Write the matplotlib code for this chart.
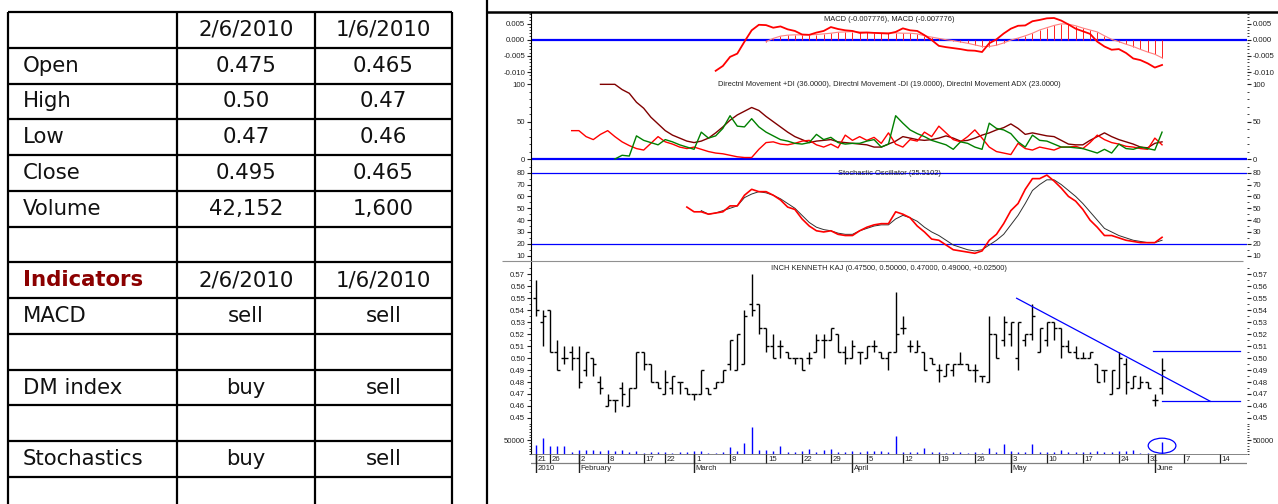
import numpy as np
import matplotlib
matplotlib.use('Agg')
import matplotlib.pyplot as plt
from matplotlib.patches import Ellipse
from matplotlib.ticker import FixedLocator, FormatStrFormatter

# ---------------- table on the left ----------------
table_cols = ['', '2/6/2010', '1/6/2010']
table_rows = [
    ['Open', '0.475', '0.465'],
    ['High', '0.50', '0.47'],
    ['Low', '0.47', '0.46'],
    ['Close', '0.495', '0.465'],
    ['Volume', '42,152', '1,600'],
    ['', '', ''],
    ['Indicators', '2/6/2010', '1/6/2010'],
    ['MACD', 'sell', 'sell'],
    ['', '', ''],
    ['DM index', 'buy', 'sell'],
    ['', '', ''],
    ['Stochastics', 'buy', 'sell'],
    ['', '', ''],
]

# ---------------- price data (one record per trading day) ----------------
price_open = [0.55, 0.53, 0.54, 0.505, 0.50, 0.505, 0.50, 0.49, 0.50, 0.48,
              0.46, 0.465, 0.475, 0.46, 0.475, 0.505, 0.495, 0.48, 0.47, 0.475,
              0.48, 0.475, 0.47, 0.47, 0.475, 0.475, 0.48, 0.495, 0.49, 0.495,
              0.545, 0.545, 0.525, 0.51, 0.51, 0.505, 0.50, 0.50, 0.50, 0.505,
              0.515, 0.515, 0.52, 0.505, 0.50, 0.505, 0.50, 0.51, 0.505, 0.50,
              0.505, 0.525, 0.51, 0.505, 0.505, 0.50, 0.49, 0.485, 0.49, 0.495,
              0.495, 0.49, 0.485, 0.48, 0.52, 0.515, 0.52, 0.50, 0.515, 0.52,
              0.505, 0.515, 0.53, 0.525, 0.51, 0.505, 0.50, 0.50, 0.495, 0.49,
              0.47, 0.475, 0.495, 0.475, 0.475, 0.48, 0.465, 0.475]
price_high = [0.565, 0.54, 0.54, 0.515, 0.51, 0.51, 0.51, 0.505, 0.50, 0.485,
              0.47, 0.465, 0.48, 0.475, 0.505, 0.505, 0.495, 0.48, 0.49, 0.485,
              0.48, 0.475, 0.47, 0.49, 0.475, 0.48, 0.49, 0.515, 0.52, 0.54,
              0.57, 0.545, 0.525, 0.52, 0.515, 0.505, 0.50, 0.50, 0.505, 0.52,
              0.52, 0.525, 0.52, 0.51, 0.515, 0.505, 0.51, 0.515, 0.505, 0.505,
              0.555, 0.535, 0.515, 0.515, 0.505, 0.50, 0.495, 0.495, 0.495, 0.505,
              0.495, 0.495, 0.485, 0.535, 0.52, 0.535, 0.53, 0.53, 0.52, 0.545,
              0.525, 0.53, 0.53, 0.525, 0.515, 0.51, 0.505, 0.505, 0.495, 0.49,
              0.49, 0.505, 0.50, 0.485, 0.485, 0.48, 0.47, 0.50]
price_low = [0.535, 0.51, 0.505, 0.49, 0.495, 0.49, 0.475, 0.485, 0.485, 0.47,
             0.46, 0.455, 0.46, 0.46, 0.475, 0.49, 0.48, 0.475, 0.47, 0.47,
             0.47, 0.47, 0.465, 0.47, 0.47, 0.475, 0.48, 0.49, 0.49, 0.495,
             0.535, 0.52, 0.505, 0.50, 0.50, 0.50, 0.495, 0.49, 0.495, 0.505,
             0.50, 0.515, 0.505, 0.495, 0.50, 0.495, 0.50, 0.505, 0.50, 0.49,
             0.505, 0.52, 0.505, 0.505, 0.49, 0.495, 0.48, 0.485, 0.485, 0.495,
             0.49, 0.48, 0.48, 0.48, 0.50, 0.51, 0.51, 0.49, 0.51, 0.515,
             0.505, 0.51, 0.515, 0.50, 0.505, 0.50, 0.50, 0.50, 0.48, 0.48,
             0.47, 0.475, 0.47, 0.475, 0.475, 0.475, 0.46, 0.47]
price_close = [0.54, 0.535, 0.505, 0.49, 0.50, 0.50, 0.48, 0.505, 0.495, 0.475,
               0.465, 0.465, 0.47, 0.475, 0.505, 0.495, 0.48, 0.475, 0.48, 0.485,
               0.48, 0.47, 0.47, 0.49, 0.47, 0.48, 0.49, 0.515, 0.52, 0.535,
               0.54, 0.525, 0.51, 0.50, 0.51, 0.50, 0.50, 0.49, 0.50, 0.515,
               0.515, 0.525, 0.505, 0.50, 0.51, 0.505, 0.51, 0.51, 0.50, 0.505,
               0.52, 0.525, 0.51, 0.51, 0.49, 0.495, 0.49, 0.495, 0.495, 0.495,
               0.49, 0.49, 0.485, 0.52, 0.50, 0.53, 0.53, 0.53, 0.52, 0.535,
               0.525, 0.53, 0.525, 0.51, 0.505, 0.50, 0.50, 0.505, 0.48, 0.49,
               0.49, 0.50, 0.48, 0.485, 0.48, 0.475, 0.465, 0.49]
volume = [33000, 57000, 30000, 30000, 30000, 9500, 14000, 14000, 14000, 12000,
          15000, 12000, 14000, 9500, 12000, 4800, 9500, 7000, 9500, 4800,
          7000, 7000, 12000, 12000, 4800, 4800, 7000, 25000, 12000, 40000,
          96000, 15000, 15000, 12000, 30000, 7000, 7000, 12000, 19000, 9500,
          14000, 19000, 7000, 7000, 12000, 9500, 12000, 12000, 12000, 9500,
          67000, 9500, 7000, 9500, 22500, 7000, 7000, 4800, 9500, 7000,
          4800, 9500, 4800, 22500, 7000, 38000, 12000, 7000, 9500, 38000,
          9500, 9500, 9500, 15000, 7000, 7000, 9500, 9500, 12000, 9500,
          9500, 12000, 12000, 15000, 4800, 4800, 1600, 42152]

# ---------------- indicators ----------------
macd_start = 25
macd_line = [-0.0096, -0.0081, -0.0053, -0.0043, -0.0006, 0.0029, 0.0046, 0.0045, 0.0037, 0.0041,
             0.0032, 0.0027, 0.0016, 0.0015, 0.0022, 0.0027, 0.0039, 0.0033, 0.0029, 0.0027,
             0.0021, 0.0022, 0.0021, 0.0020, 0.0019, 0.0024, 0.0035, 0.0029, 0.0027, 0.0014,
             -0.0001, -0.0019, -0.0023, -0.0026, -0.0029, -0.0033, -0.0034, -0.0038, -0.0011, 0.0001,
             0.0019, 0.0034, 0.0043, 0.0044, 0.0057, 0.0061, 0.0066, 0.0067, 0.0059, 0.0047,
             0.0034, 0.0026, 0.0018, -0.0006, -0.0021, -0.0031, -0.0029, -0.0041, -0.0058, -0.0063,
             -0.0073, -0.0086, -0.0078]
signal_start = 32
macd_signal = [-0.0006, 0.0004, 0.0011, 0.0014, 0.0015, 0.0015, 0.0015, 0.0016, 0.0018, 0.0020,
               0.0023, 0.0024, 0.0025, 0.0024, 0.0023, 0.0022, 0.0021, 0.0021, 0.0021, 0.0020,
               0.0020, 0.0018, 0.0012, 0.0008, 0.0004, 0.0000, -0.0003, -0.0007, -0.0011, -0.0016,
               -0.0021, -0.0021, -0.0017, -0.0010, -0.0001, 0.0005, 0.0012, 0.0020, 0.0030, 0.0037,
               0.0044, 0.0049, 0.0048, 0.0043, 0.0036, 0.0030, 0.0024, 0.0012, 0.0001, -0.0006,
               -0.0014, -0.0021, -0.0030, -0.0038, -0.0045, -0.0056]

minus_di_start = 5
minus_di = [38, 38, 30, 26, 33, 38, 30, 23, 18, 14, 12, 21, 30, 23, 20, 16, 14, 16, 13, 10,
            8, 7, 5, 3, 2, 2, 13, 22, 23, 20, 19, 21, 24, 25, 19, 16, 20, 15, 32, 25,
            30, 25, 29, 21, 35, 20, 16, 26, 24, 36, 30, 44, 35, 26, 23, 30, 39, 28, 16, 10,
            8, 6, 21, 14, 12, 16, 14, 12, 16, 16, 17, 14, 22, 32, 26, 22, 20, 17, 16, 14,
            13, 28, 19]
plus_di_start = 11
plus_di = [0, 5, 4, 31, 25, 22, 19, 26, 23, 19, 16, 13, 36, 28, 31, 41, 58, 44, 43, 54,
           43, 36, 31, 26, 24, 21, 20, 22, 33, 26, 29, 22, 20, 21, 21, 24, 26, 16, 20, 58,
           48, 39, 34, 30, 25, 22, 19, 13, 23, 21, 16, 13, 48, 41, 39, 34, 23, 16, 32, 25,
           24, 20, 16, 16, 15, 14, 11, 8, 13, 8, 20, 14, 13, 16, 14, 12, 36]
adx_start = 9
adx = [100, 100, 100, 93, 88, 76, 68, 56, 47, 38, 32, 28, 24, 22, 24, 28, 35, 43, 52, 59,
       64, 69, 65, 57, 50, 43, 36, 30, 26, 22, 24, 25, 26, 23, 22, 21, 20, 19, 16, 16,
       20, 24, 30, 28, 26, 25, 26, 28, 31, 28, 24, 25, 28, 32, 35, 39, 42, 47, 41, 33,
       35, 33, 31, 30, 25, 20, 19, 19, 25, 30, 35, 30, 26, 23, 20, 16, 15, 21, 23]

stoch_k_start = 21
stoch_k = [51, 47, 47, 45, 46, 47, 52, 52, 61, 66, 64, 64, 61, 57, 51, 49, 41, 35, 31, 30,
           31, 28, 27, 27, 31, 34, 36, 37, 37, 47, 45, 42, 35, 30, 24, 23, 19, 15, 14, 13,
           12, 14, 23, 28, 37, 48, 54, 66, 75, 75, 78, 73, 67, 60, 56, 49, 40, 34, 27, 27,
           25, 23, 22, 21, 21, 21, 25.5]
stoch_d_start = 23
stoch_d = [48, 45, 46, 48, 50, 52, 59, 62, 64, 63, 61, 58, 54, 50, 44, 38, 34, 32, 31, 29,
           28, 28, 31, 33, 35, 36, 36, 41, 44, 42, 39, 34, 30, 27, 23, 19, 17, 15, 14, 15,
           19, 23, 28, 36, 44, 54, 65, 70, 74, 74, 70, 65, 60, 54, 47, 40, 33, 30, 27, 25,
           23, 22, 21, 21, 23]

# trend / support lines drawn on the price panel (index, price)
trend_line = ([66.8, 93.7], [0.55, 0.4639])
upper_level = ([85.8, 97.8], [0.5062, 0.5062])
lower_level = ([87.0, 97.8], [0.4639, 0.4639])

# date axis
week_pos = [0, 2, 6, 10, 15, 18, 22, 27, 32, 37, 41, 46, 51, 56, 61, 66, 71, 76, 81, 85, 90, 95]
week_lbl = ['21', '26', '2', '8', '17', '22', '1', '8', '15', '22', '29', '5', '12', '19',
            '26', '3', '10', '17', '24', '31', '7', '14']
month_pos = [0, 6, 22, 44, 66, 86]
month_lbl = ['2010', 'February', 'March', 'April', 'May', 'June']

titles = {
    'macd': 'MACD (-0.007776), MACD (-0.007776)',
    'dm': 'Directnl Movement +DI (36.0000), Directnl Movement -DI (19.0000), '
          'Directnl Movement ADX (23.0000)',
    'stoch': 'Stochastic Oscillator (25.5102)',
    'price': 'INCH KENNETH KAJ (0.47500, 0.50000, 0.47000, 0.49000, +0.02500)',
}

# ---------------- layout ----------------
W, H = 1278, 504
X0, X1 = 531, 1247
XMIN, XMAX = -0.65, 98.8
CHART_FONT = 'Liberation Sans'
TABLE_FONT = 'DejaVu Sans'
TABLE_SIZE = 15.3

fig = plt.figure(figsize=(W / 100, H / 100), dpi=100)
fig.patch.set_facecolor('white')


def panel(top, bottom, ylim, major, minor, fmt):
    ax = fig.add_axes([X0 / W, 1 - bottom / H, (X1 - X0) / W, (bottom - top) / H])
    ax.set_xlim(XMIN, XMAX)
    ax.set_ylim(*ylim)
    ax.patch.set_alpha(0)
    for s in ['top', 'bottom', 'right']:
        ax.spines[s].set_visible(False)
    ax.spines['left'].set_linewidth(0.8)
    ax.tick_params(axis='x', bottom=False, labelbottom=False)
    ax.tick_params(axis='y', which='both', left=True, right=True, labelleft=True,
                   labelright=True, direction='out', labelsize=5.6, pad=1.2,
                   colors='#222222')
    ax.tick_params(axis='y', which='major', length=3, width=0.8)
    ax.tick_params(axis='y', which='minor', length=1.5, width=0.6)
    ax.yaxis.set_major_locator(FixedLocator(major))
    ax.yaxis.set_minor_locator(FixedLocator(minor))
    ax.yaxis.set_major_formatter(FormatStrFormatter(fmt))
    for lab in ax.get_yticklabels():
        lab.set_fontfamily(CHART_FONT)
    return ax


# MACD
ax_macd = panel(12, 80, (-0.01244, 0.00855), [-0.01, -0.005, 0.0, 0.005],
                np.arange(-0.012, 0.0085, 0.001), '%.3f')
ax_macd.axhline(0, color='#0000ff', lw=1.6, zorder=1)
xs = np.arange(signal_start, signal_start + len(macd_signal))
ax_macd.vlines(xs, 0, macd_signal, color='#ff2020', lw=0.7, zorder=2)
ax_macd.plot(xs, macd_signal, color='#ff8080', lw=0.8, zorder=2)
ax_macd.plot(np.arange(macd_start, macd_start + len(macd_line)), macd_line,
             color='#ff0000', lw=1.3, zorder=3)

# Directional movement
ax_dm = panel(80, 165, (-8.0, 105.8), [0, 50, 100], np.arange(0, 101, 10), '%d')
ax_dm.axhline(0, color='#0000ff', lw=1.6, zorder=1)
ax_dm.plot(np.arange(adx_start, adx_start + len(adx)), adx, color='#800000', lw=1.0)
ax_dm.plot(np.arange(minus_di_start, minus_di_start + len(minus_di)), minus_di,
           color='#ff0000', lw=1.0)
ax_dm.plot(np.arange(plus_di_start, plus_di_start + len(plus_di)), plus_di,
           color='#008000', lw=1.0)

# Stochastic
ax_st = panel(165, 261, (5.5, 86.5), np.arange(10, 81, 10), np.arange(5, 86, 5), '%d')
ax_st.axhline(80, color='#0000ff', lw=0.9)
ax_st.axhline(20, color='#0000ff', lw=0.9)
ax_st.plot(np.arange(stoch_d_start, stoch_d_start + len(stoch_d)), stoch_d,
           color='#303030', lw=0.7)
ax_st.plot(np.arange(stoch_k_start, stoch_k_start + len(stoch_k)), stoch_k,
           color='#ff0000', lw=1.2)

# Price bars
ax_p = panel(261, 454.3, (0.41962, 0.58111), np.arange(0.45, 0.575, 0.01),
             np.arange(0.445, 0.58, 0.005), '%.2f')
idx = np.arange(len(price_open))
tick = 0.42
ax_p.vlines(idx, price_low, price_high, color='black', lw=1.0)
ax_p.hlines(price_open, idx - tick, idx, color='black', lw=1.0)
ax_p.hlines(price_close, idx, idx + tick, color='black', lw=1.0)
ax_p.plot(*trend_line, color='#0000ff', lw=0.9)
ax_p.plot(*upper_level, color='#0000ff', lw=0.9)
ax_p.plot(*lower_level, color='#0000ff', lw=0.9)

# Volume in the same panel, own scale
ax_v = panel(261, 454.3, (0, 690357), [50000],
             [v for v in range(0, 100001, 10000) if v != 50000], '%d')
ax_v.spines['left'].set_visible(False)
ax_v.vlines(idx, 0, volume, color='#0000ff', lw=1.0)
ax_v.add_patch(Ellipse((87, 30700), 3.85, 53600, fill=False, ec='#0000ff', lw=0.9))

# Date strip
ax_d = fig.add_axes([X0 / W, 1 - 472.5 / H, (X1 - X0) / W, (472.5 - 454.3) / H])
ax_d.set_xlim(XMIN, XMAX)
ax_d.set_ylim(2, 0)
ax_d.axis('off')
ax_d.axhline(0, color='#707070', lw=1.2)
ax_d.axhline(1, color='#808080', lw=0.9)
ax_d.vlines(week_pos, 0, 1, color='#202020', lw=0.9)
ax_d.vlines(month_pos, 0, 2, color='#202020', lw=1.0)
for p, t in zip(week_pos, week_lbl):
    ax_d.text(p + 0.25, 0.55, t, fontsize=5.6, family=CHART_FONT, va='center', ha='left',
              color='#222222')
for p, t in zip(month_pos, month_lbl):
    ax_d.text(p + 0.25, 1.55, t, fontsize=5.6, family=CHART_FONT, va='center', ha='left',
              color='#222222')

# ---------------- overlay: table, frame, titles ----------------
ov = fig.add_axes([0, 0, 1, 1], zorder=5)
ov.set_xlim(0, W)
ov.set_ylim(H, 0)
ov.axis('off')
ov.patch.set_alpha(0)

row_h = 35.77
row_y = [12 + row_h * k for k in range(len(table_rows) + 2)]
col_x = [8, 177, 315, 452]
ov.hlines(row_y, col_x[0], col_x[-1], color='black', lw=1.6)
ov.vlines(col_x, row_y[0], H + 20, color='black', lw=1.6)
for r, row in enumerate([table_cols] + table_rows):
    yc = row_y[r] + row_h / 2
    if row[0] == 'Indicators':
        ov.text(23, yc, row[0], fontsize=TABLE_SIZE, fontweight='bold', color='#8b0000',
                va='center', ha='left', family=TABLE_FONT)
    else:
        ov.text(23, yc, row[0], fontsize=TABLE_SIZE, va='center', ha='left',
                family=TABLE_FONT, color='#111111')
    for c in (1, 2):
        ov.text((col_x[c] + col_x[c + 1]) / 2, yc, row[c], fontsize=TABLE_SIZE,
                va='center', ha='center', family=TABLE_FONT, color='#111111')

ov.vlines(486.5, 0, H, color='black', lw=1.6)
ov.hlines(12, 486.5, W, color='black', lw=1.8)
ov.hlines(261, 502, 1243, color='#909090', lw=0.8)

cx = (X0 + X1) / 2
for key, y in [('macd', 19.5), ('dm', 84.5), ('stoch', 173.5), ('price', 268)]:
    ov.text(cx, y, titles[key], fontsize=5.4, family=CHART_FONT, ha='center', va='center',
            color='#222222')

fig.savefig('out.png', dpi=100)
